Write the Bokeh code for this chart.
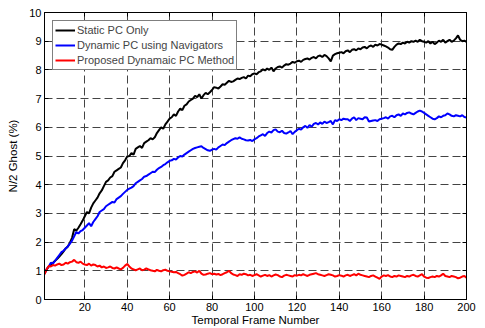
from bokeh.plotting import figure
from bokeh.models import LinearAxis, FixedTicker, Legend, LegendItem
from bokeh.embed import file_html
from bokeh.resources import INLINE

frames = list(range(1, 201))

static_pc = [
    0.90, 1.05, 1.15, 1.20, 1.28, 1.35, 1.42, 1.50, 1.58, 1.68,
    1.78, 1.85, 1.98, 2.15, 2.45, 2.40, 2.50, 2.62, 2.75, 2.90,
    3.05, 3.00, 3.20, 3.35, 3.45, 3.55, 3.70, 3.80, 3.95, 4.10,
    4.15, 4.25, 4.30, 4.45, 4.50, 4.55, 4.60, 4.75, 4.85, 4.98,
    5.00, 5.10, 5.05, 5.25, 5.30, 5.35, 5.28, 5.45, 5.50, 5.55,
    5.62, 5.58, 5.65, 5.80, 5.90, 6.00, 5.95, 6.10, 6.20, 6.30,
    6.35, 6.45, 6.40, 6.55, 6.65, 6.60, 6.75, 6.80, 6.90, 6.95,
    7.00, 7.10, 7.05, 7.15, 7.00, 7.12, 7.20, 7.15, 7.22, 7.30,
    7.40, 7.38, 7.35, 7.42, 7.50, 7.48, 7.55, 7.62, 7.58, 7.60,
    7.65, 7.70, 7.68, 7.72, 7.75, 7.70, 7.80, 7.78, 7.85, 7.88,
    7.85, 7.92, 7.95, 8.02, 7.98, 8.05, 8.00, 8.08, 7.95, 8.05,
    8.10, 8.12, 8.08, 8.15, 8.20, 8.18, 8.22, 8.28, 8.25, 8.30,
    8.32, 8.28, 8.35, 8.38, 8.40, 8.36, 8.42, 8.45, 8.40, 8.48,
    8.50, 8.45, 8.52, 8.48, 8.40, 8.30, 8.50, 8.55, 8.58, 8.60,
    8.62, 8.58, 8.65, 8.68, 8.62, 8.70, 8.72, 8.68, 8.75, 8.72,
    8.78, 8.80, 8.75, 8.82, 8.85, 8.80, 8.88, 8.85, 8.90, 8.88,
    8.85, 8.82, 8.78, 8.72, 8.70, 8.80, 8.88, 8.92, 8.90, 8.95,
    8.92, 8.98, 8.95, 9.00, 8.98, 9.02, 8.98, 9.05, 9.00, 8.98,
    8.95, 9.00, 8.92, 8.98, 8.90, 8.95, 9.02, 8.98, 9.05, 8.95,
    9.00, 9.05, 8.98, 9.02, 9.10, 9.20, 9.05, 9.00, 9.02, 8.98,
]

dynamic_nav = [
    0.90, 1.05, 1.15, 1.28, 1.25, 1.35, 1.45, 1.55, 1.65, 1.70,
    1.78, 1.85, 1.95, 2.05, 2.20, 2.35, 2.30, 2.38, 2.42, 2.50,
    2.58, 2.66, 2.55, 2.70, 2.80, 2.90, 3.05, 3.10, 3.15, 3.25,
    3.30, 3.35, 3.40, 3.38, 3.50, 3.55, 3.60, 3.68, 3.75, 3.82,
    3.86, 3.90, 3.95, 4.05, 4.10, 4.15, 4.20, 4.28, 4.30, 4.35,
    4.40, 4.45, 4.44, 4.52, 4.58, 4.62, 4.68, 4.72, 4.78, 4.83,
    4.85, 4.90, 4.88, 4.95, 5.00, 4.98, 5.05, 5.10, 5.15, 5.20,
    5.25, 5.28, 5.30, 5.32, 5.34, 5.28, 5.24, 5.20, 5.18, 5.22,
    5.25, 5.22, 5.30, 5.35, 5.40, 5.38, 5.45, 5.50, 5.55, 5.59,
    5.62, 5.60, 5.65, 5.60, 5.58, 5.55, 5.54, 5.56, 5.52, 5.58,
    5.62, 5.68, 5.72, 5.76, 5.70, 5.80, 5.85, 5.82, 5.90, 5.93,
    5.85, 5.83, 5.88, 5.80, 5.78, 5.82, 5.87, 5.76, 5.84, 5.90,
    5.95, 5.92, 6.00, 6.05, 5.98, 6.08, 6.02, 6.12, 6.15, 6.10,
    6.17, 6.12, 6.20, 6.15, 6.18, 6.22, 6.10, 6.25, 6.22, 6.28,
    6.25, 6.30, 6.28, 6.28, 6.22, 6.30, 6.35, 6.25, 6.32, 6.30,
    6.28, 6.35, 6.34, 6.20, 6.22, 6.24, 6.25, 6.22, 6.28, 6.30,
    6.32, 6.35, 6.30, 6.38, 6.40, 6.35, 6.42, 6.45, 6.40, 6.48,
    6.45, 6.50, 6.52, 6.48, 6.45, 6.50, 6.55, 6.58, 6.55, 6.50,
    6.45, 6.40, 6.35, 6.30, 6.28, 6.32, 6.38, 6.35, 6.40, 6.42,
    6.48, 6.45, 6.40, 6.38, 6.42, 6.40, 6.38, 6.42, 6.36, 6.34,
]

proposed = [
    0.88, 1.05, 1.17, 1.15, 1.20, 1.18, 1.22, 1.25, 1.20, 1.22,
    1.28, 1.25, 1.30, 1.32, 1.38, 1.30, 1.28, 1.32, 1.25, 1.22,
    1.20, 1.25, 1.18, 1.22, 1.20, 1.15, 1.18, 1.12, 1.15, 1.10,
    1.12, 1.15, 1.10, 1.08, 1.12, 1.08, 1.05, 1.10, 1.18, 1.24,
    1.15, 1.08, 1.05, 1.02, 1.05, 1.08, 1.02, 1.04, 1.08, 1.05,
    1.02, 1.00, 0.98, 1.03, 1.00, 0.98, 1.02, 1.04, 1.00, 0.98,
    0.97, 0.95, 0.96, 0.92, 0.88, 0.83, 0.86, 0.90, 0.95, 0.92,
    0.96, 0.98, 0.94, 1.00, 0.90, 0.86, 0.87, 0.90, 0.92, 0.88,
    0.90, 0.87, 0.89, 0.85, 0.88, 0.92, 0.95, 1.00, 0.92, 0.87,
    0.85, 0.82, 0.88, 0.86, 0.90, 0.88, 0.84, 0.86, 0.82, 0.85,
    0.88, 0.84, 0.80, 0.83, 0.86, 0.82, 0.85, 0.80, 0.84, 0.87,
    0.85, 0.80, 0.78, 0.83, 0.86, 0.84, 0.82, 0.80, 0.85, 0.83,
    0.86, 0.84, 0.88, 0.85, 0.82, 0.86, 0.88, 0.90, 0.92, 0.88,
    0.86, 0.84, 0.82, 0.85, 0.88, 0.86, 0.84, 0.80, 0.82, 0.85,
    0.83, 0.80, 0.84, 0.86, 0.82, 0.85, 0.88, 0.84, 0.90, 0.86,
    0.84, 0.82, 0.80, 0.78, 0.82, 0.84, 0.80, 0.76, 0.72, 0.80,
    0.84, 0.82, 0.85, 0.80, 0.78, 0.82, 0.80, 0.84, 0.82, 0.80,
    0.78, 0.82, 0.80, 0.84, 0.86, 0.82, 0.80, 0.84, 0.88, 0.80,
    0.76, 0.75, 0.78, 0.80, 0.78, 0.82, 0.80, 0.84, 0.90, 0.82,
    0.80, 0.78, 0.82, 0.80, 0.78, 0.74, 0.76, 0.80, 0.82, 0.76,
]

series_names = ["Static PC Only", "Dynamic PC using Navigators", "Proposed Dynamaic PC Method"]
x_ticks = [20, 40, 60, 80, 100, 120, 140, 160, 180, 200]
y_ticks = [0, 1, 2, 3, 4, 5, 6, 7, 8, 9, 10]

FONT = "Liberation Sans"

p = figure(width=477, height=328, x_range=(1, 200), y_range=(0, 10),
           output_backend="svg", toolbar_location=None,
           min_border_left=44, min_border_right=11, min_border_top=12, min_border_bottom=26,
           x_axis_label="Temporal Frame Number", y_axis_label="N/2 Ghost (%)")
p.outline_line_color = "black"
p.outline_line_width = 1

for ax in [p.xaxis[0], p.yaxis[0]]:
    ax.major_tick_in = 4
    ax.major_tick_out = 0
    ax.minor_tick_in = 0
    ax.minor_tick_out = 0
    ax.axis_line_color = "black"
    ax.major_tick_line_color = "black"
    ax.major_label_text_font = FONT
    ax.major_label_text_font_size = "11px"
    ax.major_label_text_color = "black"
    ax.axis_label_text_font = FONT
    ax.axis_label_text_font_size = "11.5px"
    ax.axis_label_text_font_style = "normal"
    ax.axis_label_text_color = "black"

p.xaxis.ticker = FixedTicker(ticks=x_ticks)
p.yaxis.ticker = FixedTicker(ticks=y_ticks)
p.xaxis.major_label_standoff = 3
p.yaxis.major_label_standoff = 3
p.xaxis.axis_label_standoff = 0
p.yaxis.axis_label_standoff = 7

# MATLAB-style box ticks on top and right
top = LinearAxis(ticker=FixedTicker(ticks=x_ticks), major_label_text_font_size="0px",
                 major_tick_in=4, major_tick_out=0, minor_tick_in=0, minor_tick_out=0,
                 axis_line_color="black", major_label_text_alpha=0)
right = LinearAxis(ticker=FixedTicker(ticks=y_ticks), major_label_text_font_size="0px",
                   major_tick_in=4, major_tick_out=0, minor_tick_in=0, minor_tick_out=0,
                   axis_line_color="black", major_label_text_alpha=0)
p.add_layout(top, "above")
p.add_layout(right, "right")

for g in [p.xgrid[0], p.ygrid[0]]:
    g.grid_line_color = "#444444"
    g.grid_line_dash = "8 4"
    g.grid_line_width = 1
p.xgrid.ticker = FixedTicker(ticks=x_ticks)
p.ygrid.ticker = FixedTicker(ticks=y_ticks)

r1 = p.line(frames, static_pc, line_color="black", line_width=2)
r2 = p.line(frames, dynamic_nav, line_color="#0000ff", line_width=2)
r3 = p.line(frames, proposed, line_color="#ff0000", line_width=2)

legend = Legend(items=[LegendItem(label=series_names[0], renderers=[r1]),
                       LegendItem(label=series_names[1], renderers=[r2]),
                       LegendItem(label=series_names[2], renderers=[r3])],
                location="top_left", margin=8, padding=2, spacing=1,
                label_text_font=FONT, label_text_font_size="11px",
                label_height=14, glyph_height=14, glyph_width=20, label_standoff=2,
                border_line_color="black", border_line_width=1.5,
                background_fill_color="white", background_fill_alpha=1)
p.add_layout(legend)

open("out.html", "w").write(file_html(p, INLINE))
